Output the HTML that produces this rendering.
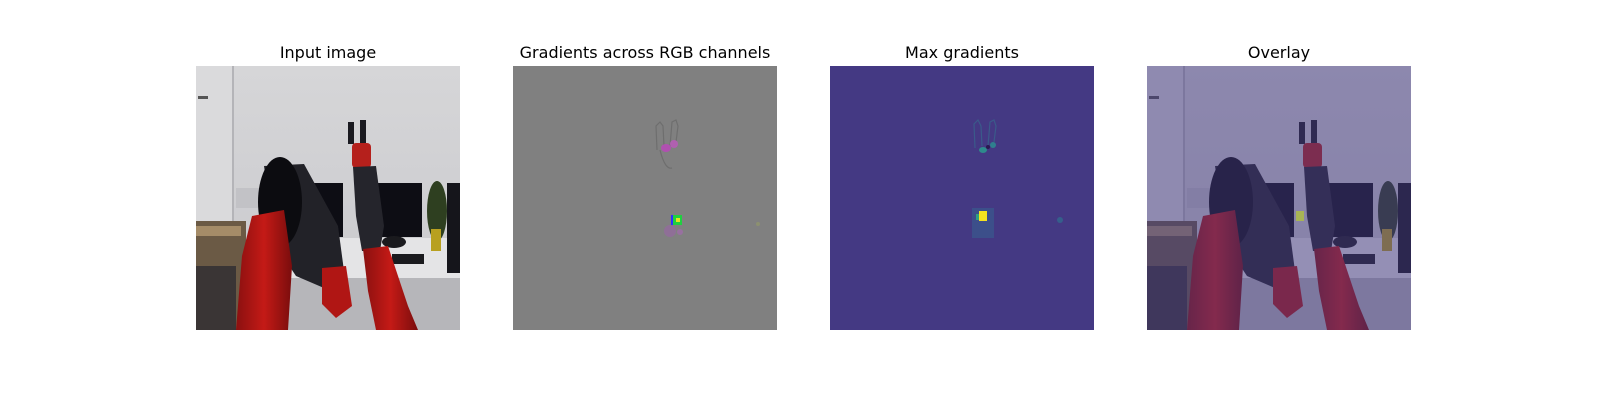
<!DOCTYPE html>
<html><head><meta charset="utf-8"><style>
html,body{margin:0;padding:0;background:#fff;width:1600px;height:400px;overflow:hidden}
text{font-family:"DejaVu Sans","Liberation Sans",sans-serif;font-size:16px;fill:#000}
</style></head><body>
<svg width="1600" height="400" viewBox="0 0 1600 400" xmlns="http://www.w3.org/2000/svg">
<defs>
<linearGradient id="wall" x1="0" y1="0" x2="0" y2="1"><stop offset="0" stop-color="#d6d6d8"/><stop offset="1" stop-color="#c8c8cc"/></linearGradient>
<linearGradient id="redg" x1="0" y1="0" x2="1" y2="0"><stop offset="0" stop-color="#8a1010"/><stop offset="0.5" stop-color="#c41a16"/><stop offset="1" stop-color="#7a0d0d"/></linearGradient>
<symbol id="scene" viewBox="0 0 264 264">
<rect x="0" y="0" width="264" height="264" fill="url(#wall)"/>
<rect x="0" y="0" width="36" height="264" fill="#dadadc"/>
<rect x="36" y="0" width="2" height="160" fill="#b4b4b8"/>
<rect x="40" y="122" width="40" height="20" fill="#c2c2c6"/>
<rect x="2" y="30" width="10" height="3" fill="#555"/>
<rect x="0" y="155" width="50" height="109" fill="#6b5a45"/>
<rect x="0" y="160" width="45" height="10" fill="#a58c68"/>
<rect x="0" y="200" width="40" height="64" fill="#3a3535"/>
<rect x="85" y="172" width="179" height="40" fill="#e4e4e6"/>
<rect x="85" y="212" width="179" height="52" fill="#b6b6ba"/>
<rect x="109" y="117" width="38" height="54" fill="#0d0d14"/>
<rect x="181" y="117" width="45" height="54" fill="#0d0d14"/>
<rect x="251" y="117" width="13" height="90" fill="#15151b"/>
<ellipse cx="241" cy="145" rx="10" ry="30" fill="#2e3f20"/>
<rect x="235" y="163" width="10" height="22" fill="#b8a020"/>
<rect x="196" y="188" width="32" height="10" fill="#1a1a1e"/>
<ellipse cx="198" cy="176" rx="12" ry="6" fill="#1a1a1e"/>
<polygon points="68,100 108,98 142,160 148,205 128,222 100,210 80,180" fill="#222228"/>
<ellipse cx="84" cy="136" rx="22" ry="45" fill="#0c0c10"/>
<polygon points="56,150 88,144 96,200 92,264 40,264 46,190" fill="url(#redg)"/>
<polygon points="126,202 150,200 156,240 140,252 126,238" fill="#b01614"/>
<rect x="152" y="56" width="6" height="22" fill="#1a1a20"/>
<rect x="164" y="54" width="6" height="24" fill="#1a1a20"/>
<rect x="156" y="77" width="19" height="25" rx="4" fill="#b5201c"/>
<polygon points="157,101 180,100 188,160 184,185 166,185 160,150" fill="#25252c"/>
<polygon points="167,183 192,180 212,240 222,264 180,264 172,225" fill="url(#redg)"/>
</symbol>
</defs>

<text x="328" y="58" text-anchor="middle">Input image</text>
<g><use href="#scene" x="196" y="66" width="264" height="264"/></g>

<text x="645" y="58" text-anchor="middle">Gradients across RGB channels</text>
<g>
<rect x="513" y="66" width="264" height="264" fill="#808080"/>
<g fill="none" stroke="#6e6e6e" stroke-width="1.2">
<path d="M657,150 L656,126 L660,122 L663,126 L664,146"/>
<path d="M670,146 L672,122 L676,120 L678,126 L676,142"/>
<path d="M660,150 Q665,170 672,168"/>
</g>
<ellipse cx="666" cy="148" rx="5" ry="4" fill="#b050b0"/>
<ellipse cx="674" cy="144" rx="4" ry="4" fill="#b060b0"/>
<ellipse cx="670" cy="231" rx="6" ry="6" fill="#8f6f97"/>
<ellipse cx="680" cy="232" rx="3" ry="3" fill="#9870a0"/>
<rect x="671" y="215" width="11" height="10" fill="#20d040"/>
<rect x="671" y="215" width="2" height="10" fill="#3030ff"/>
<rect x="676" y="218" width="4" height="4" fill="#e8e020"/>
<circle cx="758" cy="224" r="2" fill="#8c9070"/>
</g>

<text x="962" y="58" text-anchor="middle">Max gradients</text>
<g>
<rect x="830" y="66" width="264" height="264" fill="#443983"/>
<g fill="none" stroke="#3a5a8a" stroke-width="1.2">
<path d="M975,148 L974,124 L978,120 L981,126 L982,146"/>
<path d="M988,146 L990,122 L994,120 L996,126 L994,142"/>
</g>
<ellipse cx="983" cy="150" rx="4" ry="3" fill="#2e8a8c"/>
<ellipse cx="993" cy="145" rx="3" ry="3" fill="#2f7f8e"/>
<circle cx="988" cy="147" r="2" fill="#2a1850"/>
<rect x="972" y="208" width="22" height="30" fill="#3c4f8a"/>
<rect x="976" y="214" width="4" height="6" fill="#30a080"/>
<rect x="979" y="211" width="8" height="10" fill="#f5e31f"/>
<circle cx="1060" cy="220" r="3" fill="#355f8b"/>
</g>

<text x="1279" y="58" text-anchor="middle">Overlay</text>
<g>
<use href="#scene" x="1147" y="66" width="264" height="264"/>
<rect x="1147" y="66" width="264" height="264" fill="#443983" opacity="0.5"/>
<rect x="1296" y="211" width="8" height="10" fill="#b0c040" opacity="0.8"/>
</g>
</svg>
</body></html>
